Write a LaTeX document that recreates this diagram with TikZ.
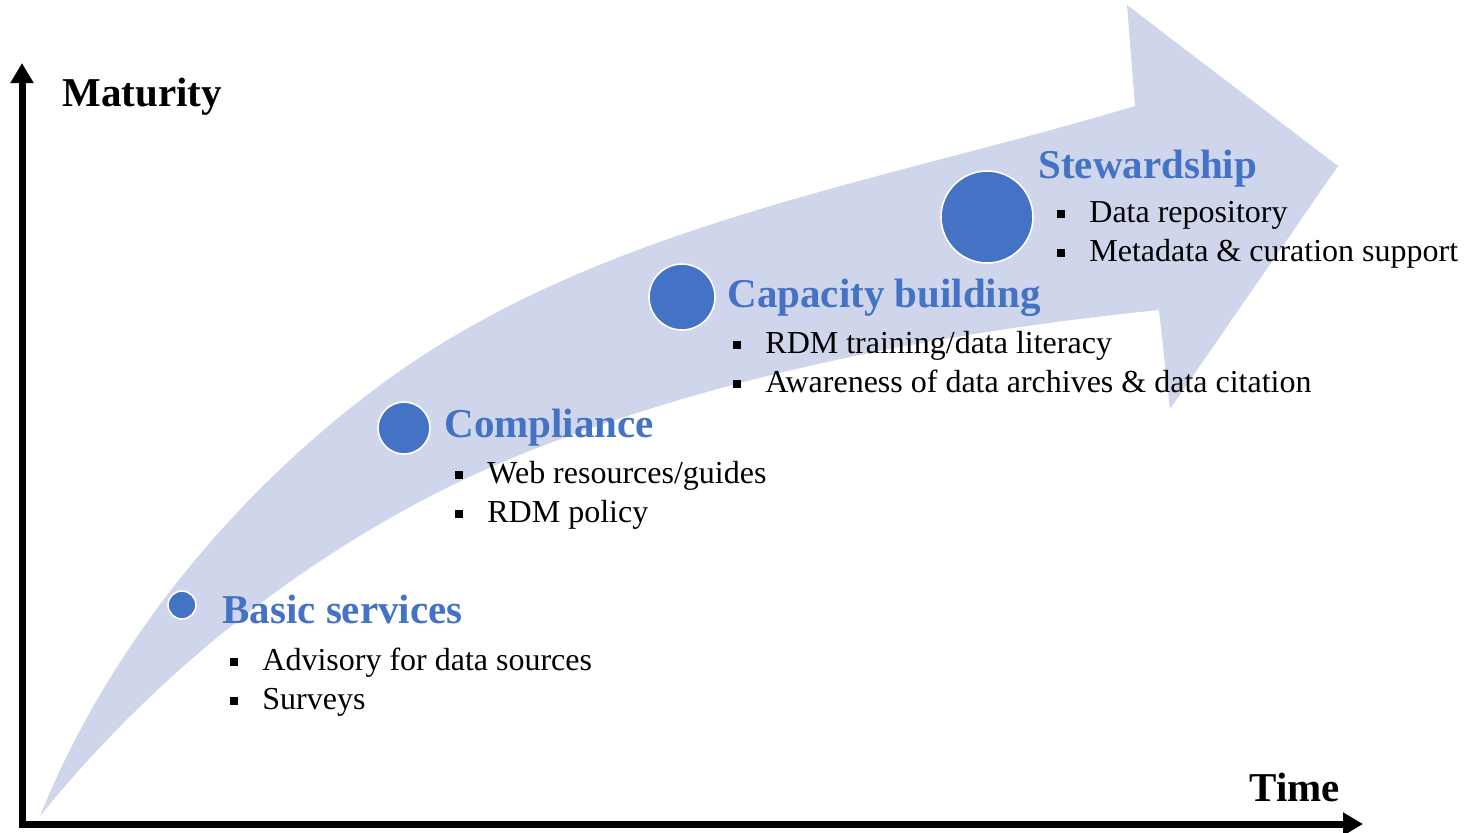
\documentclass[tikz,border=0pt]{standalone}
\usepackage{fontspec}
\setmainfont{Liberation Serif}
\usetikzlibrary{arrows.meta}
\definecolor{bandc}{HTML}{CFD5EA}
\definecolor{accent}{HTML}{4472C4}
\tikzset{
  axis/.style={line width=3.5pt,-{Triangle[length=10pt,width=11pt]}},
  dot/.style={circle,fill=accent,draw=white,line width=0.8pt,inner sep=0pt},
  head/.style={anchor=base west,inner sep=0pt,text=accent,font=\fontsize{20.5}{24}\selectfont\bfseries},
  axlabel/.style={anchor=base west,inner sep=0pt,font=\fontsize{20.5}{24}\selectfont\bfseries},
  item/.style={anchor=base west,inner sep=0pt,font=\fontsize{16}{19}\selectfont}
}
\newcommand{\bul}{\rule[2pt]{4pt}{4pt}\hspace{12pt}}
\begin{document}
\begin{tikzpicture}[x=0.5pt,y=-0.5pt]
\useasboundingbox (0,0) rectangle (1468,832);
% band arrow
\fill[bandc] (40,816)
  .. controls (109,645) and (235,492) .. (383,383)
  .. controls (598,225) and (879,183) .. (1135,106)
  -- (1127,5) -- (1338,166) -- (1170,409) -- (1159,310)
  .. controls (952,331) and (745,370) .. (550,443)
  .. controls (352,517) and (173,652) .. (40,816) -- cycle;
% axes
\coordinate (o) at (22,824);
\coordinate (ytip) at (22,63);
\coordinate (xtip) at (1363,824);
\draw[axis] (o) -- (ytip);
\draw[axis,line cap=rect] (o) -- (xtip);
\node[axlabel] (maturity) at (62,106) {Maturity};
\node[axlabel] (time) at (1249,801) {Time};
% stages
\node[dot,minimum size=14pt] (d1) at (182,605) {};
\node[head] (h1) at (222,623) {Basic services};
\node[item] (i11) at (230,670) {\bul Advisory for data sources};
\node[item] (i12) at (230,709) {\bul Surveys};

\node[dot,minimum size=26pt] (d2) at (404,428) {};
\node[head] (h2) at (444,437) {Compliance};
\node[item] (i21) at (455,483) {\bul Web resources/guides};
\node[item] (i22) at (455,522) {\bul RDM policy};

\node[dot,minimum size=33pt] (d3) at (682,297) {};
\node[head] (h3) at (727,307) {Capacity building};
\node[item] (i31) at (733,353) {\bul RDM training/data literacy};
\node[item] (i32) at (733,392) {\bul Awareness of data archives \& data citation};

\node[dot,minimum size=46pt] (d4) at (987,217) {};
\node[head] (h4) at (1038,178) {Stewardship};
\node[item] (i41) at (1057,222) {\bul Data repository};
\node[item] (i42) at (1057,261) {\bul Metadata \& curation support};
\end{tikzpicture}
\end{document}
